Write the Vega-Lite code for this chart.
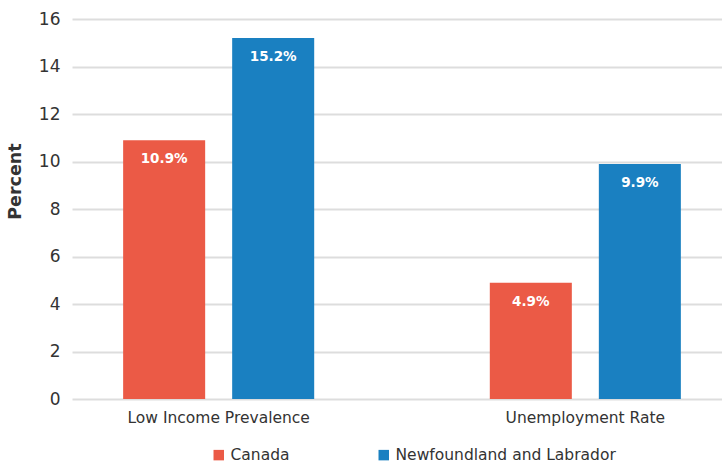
{
  "$schema": "https://vega.github.io/schema/vega-lite/v6.json",
  "width": 650,
  "height": 380,
  "autosize": {"type": "none"},
  "padding": {"left": 72, "top": 19, "right": 0, "bottom": 64},
  "background": "white",
  "config": {
    "font": "DejaVu Sans",
    "view": {"stroke": null}
  },
  "data": {
    "values": [
      {"category": "Low Income Prevalence", "region": "Canada", "value": 10.9, "label": "10.9%"},
      {"category": "Low Income Prevalence", "region": "Newfoundland and Labrador", "value": 15.2, "label": "15.2%"},
      {"category": "Unemployment Rate", "region": "Canada", "value": 4.9, "label": "4.9%"},
      {"category": "Unemployment Rate", "region": "Newfoundland and Labrador", "value": 9.9, "label": "9.9%"}
    ]
  },
  "encoding": {
    "x": {
      "field": "category",
      "type": "nominal",
      "sort": null,
      "scale": {"range": [0, 660], "paddingInner": 0.2, "paddingOuter": 0},
      "axis": {
        "title": null,
        "labelAngle": 0,
        "labelFontSize": 15.5,
        "labelLimit": 400,
        "labelColor": "#333333",
        "labelPadding": 11,
        "ticks": false,
        "domain": false,
        "grid": false
      }
    },
    "xOffset": {
      "field": "region",
      "type": "nominal",
      "sort": ["Canada", "Newfoundland and Labrador"],
      "scale": {"paddingInner": 0.2477, "paddingOuter": 0.469}
    },
    "y": {
      "field": "value",
      "type": "quantitative",
      "scale": {"domain": [0, 16]},
      "axis": {
        "title": "Percent",
        "titleFontSize": 17.5,
        "titleFontWeight": "bold",
        "titleColor": "#333333",
        "titlePadding": 14,
        "titleY": 162,
        "values": [0, 2, 4, 6, 8, 10, 12, 14, 16],
        "labelFontSize": 17,
        "labelColor": "#333333",
        "labelPadding": 12,
        "ticks": false,
        "domain": false,
        "gridColor": "#DDDDDD",
        "gridWidth": 2
      }
    }
  },
  "layer": [
    {
      "mark": {"type": "bar"},
      "encoding": {
        "color": {
          "field": "region",
          "type": "nominal",
          "sort": ["Canada", "Newfoundland and Labrador"],
          "scale": {"domain": ["Canada", "Newfoundland and Labrador"], "range": ["#EB5A46", "#1A80C1"]},
          "legend": {
            "title": null,
            "orient": "none",
            "direction": "horizontal",
            "legendX": 139,
            "legendY": 428,
            "symbolType": "square",
            "symbolSize": 110,
            "symbolStrokeWidth": 0,
            "labelFontSize": 15.5,
            "labelLimit": 400,
            "labelColor": "#333333",
            "labelOffset": 4,
            "columnPadding": 86
          }
        }
      }
    },
    {
      "mark": {"type": "text", "color": "white", "fontWeight": "bold", "fontSize": 13.5, "baseline": "middle", "dy": 19},
      "encoding": {
        "text": {"field": "label"}
      }
    }
  ]
}
